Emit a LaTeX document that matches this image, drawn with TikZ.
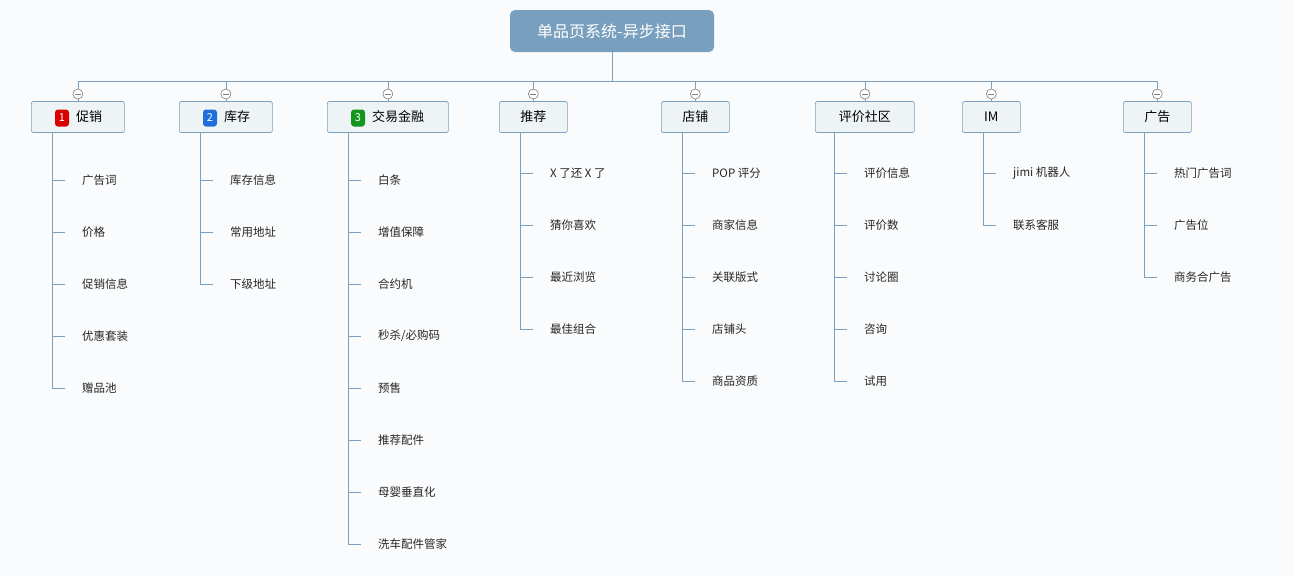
\documentclass[tikz,border=0pt]{standalone}
\usepackage{fontspec}
\setmainfont{Noto Sans CJK SC}
\begin{document}
\begin{tikzpicture}[x=1pt,y=-1pt,
  ln/.style={draw=lineblue,line width=0.7pt},
  cat/.style={draw=boxedge,fill=boxfill,rounded corners=2pt,line width=0.7pt,minimum height=31pt,font=\fontsize{13}{13}\selectfont,anchor=west,inner sep=0pt},
  cattxt/.style={font=\fontsize{13}{13}\selectfont,anchor=west,inner sep=0pt},
  kid/.style={font=\fontsize{11.5}{11.5}\selectfont,anchor=west,inner sep=0pt,text=black!85},
  badge/.style={rounded corners=3pt,minimum width=14pt,minimum height=17pt,inner sep=0pt,text=white,font=\fontsize{11}{11}\selectfont\itshape},
  tog/.style={circle,draw=gray,fill=white,minimum size=10pt,inner sep=0pt,line width=0.6pt}]
\definecolor{lineblue}{HTML}{7A9FBF}
\definecolor{boxedge}{HTML}{7A9FBF}
\definecolor{boxfill}{HTML}{EEF3F6}
\definecolor{rootfill}{HTML}{789FBE}
\fill[fill={rgb,255:red,250;green,251;blue,252}] (0,0) rectangle (1293,576);
\useasboundingbox (0,0) rectangle (1293,576);
\node[fill=rootfill,rounded corners=5pt,minimum width=204pt,minimum height=42pt,text=white,font=\fontsize{16}{16}\selectfont,inner sep=0pt] (root) at (612,31) {单品页系统-异步接口};
\coordinate (bus) at (612,81);
\draw[ln] (root.south) -- (bus);
\draw[ln] (78,81) coordinate (bl) -- (1157,81) coordinate (br);
\foreach \n/\lx/\w/\lab in {
 a/31/93/{},
 b/179/93/{},
 c/327/121/{},
 d/499/68/{推荐},
 e/661/68/{店铺},
 f/815/99/{评价社区},
 g/962/58/{IM},
 h/1123/68/{广告}}{
  \node[cat,minimum width=\w pt] (\n) at (\lx,117) {\lab};
  \node[tog] (t\n) at (\n.north |- 0,94) {};
  \draw[ln] (\n.north |- bus) -- (t\n.north);
  \draw[ln] (t\n.south) -- (\n.north);
  \draw[gray,line width=0.6pt] ([xshift=-3pt]t\n.center) -- ([xshift=3pt]t\n.center);
}
\node[badge,fill=red!85!black] (ba) at (62,118) {1};
\node[cattxt] at (76,117) {促销};
\node[badge,fill={rgb,255:red,30;green,110;blue,220}] (bb) at (210,118) {2};
\node[cattxt] at (224,117) {库存};
\node[badge,fill={rgb,255:red,20;green,150;blue,30}] (bc) at (358,118) {3};
\node[cattxt] at (372,117) {交易金融};
\newcommand\kids[4]{%
  \foreach \t [count=\i] in {#4}{
    \pgfmathsetmacro\yy{#3+52*(\i-1)}
    \coordinate (k#1\i) at (#2,\yy);
    \draw[ln] (k#1\i) -- ++(13,0);
    \node[kid] at ([xshift=30pt]k#1\i) {\t};
    \xdef\last{\yy}
  }
  \draw[ln] (#1.south -| #2,0) -- (#2,\last);
}
\kids{a}{52}{180}{广告词,价格,促销信息,优惠套装,赠品池}
\kids{b}{200}{180}{库存信息,常用地址,下级地址}
\kids{c}{348}{180}{白条,增值保障,合约机,秒杀/必购码,预售,推荐配件,母婴垂直化,洗车配件管家}
\kids{d}{520}{173}{X 了还 X 了,猜你喜欢,最近浏览,最佳组合}
\kids{e}{682}{173}{POP 评分,商家信息,关联版式,店铺头,商品资质}
\kids{f}{834}{173}{评价信息,评价数,讨论圈,咨询,试用}
\kids{g}{983}{173}{jimi 机器人,联系客服}
\kids{h}{1144}{173}{热门广告词,广告位,商务合广告}
\end{tikzpicture}
\end{document}
